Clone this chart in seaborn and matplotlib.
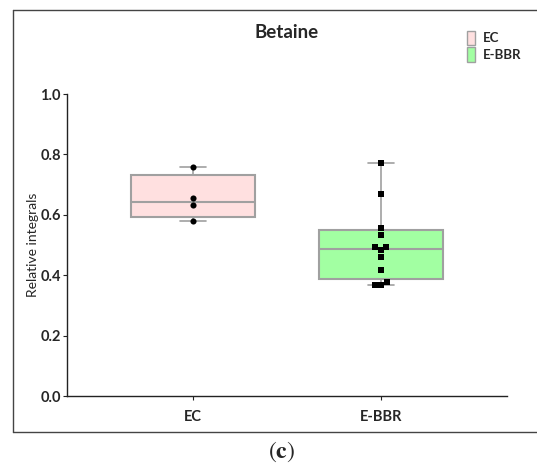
import numpy as np
import pandas as pd
import matplotlib
matplotlib.use("Agg")
import matplotlib.pyplot as plt
import seaborn as sns
from matplotlib.patches import Patch
from matplotlib.lines import Line2D

# values
GROUPS = ["EC", "E-BBR"]
EC_VALUES = [0.759, 0.656, 0.632, 0.578]
EBBR_VALUES = [0.773, 0.669, 0.557, 0.532, 0.494, 0.492, 0.483,
               0.460, 0.416, 0.377, 0.369, 0.369]
COLORS = {"EC": "#ffe0e0", "E-BBR": "#a2ffa2"}
MARKERS = {"EC": "o", "E-BBR": "s"}

df = pd.DataFrame({
    "group": ["EC"] * len(EC_VALUES) + ["E-BBR"] * len(EBBR_VALUES),
    "value": EC_VALUES + EBBR_VALUES,
})

sns.set_theme(style="white")
plt.rcParams["font.family"] = ["Lato", "DejaVu Sans"]
plt.rcParams["mathtext.fontset"] = "stix"

fig = plt.figure(figsize=(5.37, 4.68), dpi=100)
ax = fig.add_axes([67 / 537, 1 - 396 / 468, 440 / 537, 302 / 468])

# Prism-style boxes: quartiles by (n+1)p rule, whiskers min..max
stats = []
for g in GROUPS:
    v = df.loc[df["group"] == g, "value"].to_numpy()
    q1, med, q3 = np.percentile(v, [25, 50, 75], method="weibull")
    stats.append(dict(med=med, q1=q1, q3=q3, whislo=v.min(), whishi=v.max(), fliers=[]))

edge = "#a0a0a0"
bp = ax.bxp(stats, positions=[0, 1], widths=0.655, capwidths=0.135,
            patch_artist=True, showfliers=False,
            boxprops=dict(edgecolor=edge, linewidth=1.5),
            medianprops=dict(color=edge, linewidth=1.5),
            whiskerprops=dict(color=edge, linewidth=1.2),
            capprops=dict(color=edge, linewidth=1.2))
for patch, g in zip(bp["boxes"], GROUPS):
    patch.set_facecolor(COLORS[g])
    patch.set_zorder(2)

for g in GROUPS:
    sns.swarmplot(data=df[df["group"] == g], x="group", y="value", order=GROUPS,
                  marker=MARKERS[g], color="black", size=4.4, ax=ax, zorder=4)

ax.set_xlim(-0.67, 1.67)
ax.set_ylim(0, 1.0)
ax.set_yticks([0.0, 0.2, 0.4, 0.6, 0.8, 1.0])
ax.set_yticklabels([f"{t:.1f}" for t in [0.0, 0.2, 0.4, 0.6, 0.8, 1.0]])
ax.set_xticks([0, 1])
ax.set_xticklabels(GROUPS)
ax.set_xlabel("")
ax.set_ylabel("Relative integrals", fontsize=10, labelpad=1)
for lbl in ax.get_xticklabels() + ax.get_yticklabels():
    lbl.set_fontweight("bold")
    lbl.set_fontsize(10.5)
ax.tick_params(axis="both", which="both", direction="out", length=3, width=0.8,
               color="#222222", left=True, bottom=True, pad=1.5)
ax.tick_params(axis="x", pad=7)
sns.despine(ax=ax)
for s in ("left", "bottom"):
    ax.spines[s].set_color("#222222")
    ax.spines[s].set_linewidth(1.0)

fig.text(287 / 537, 1 - 33 / 468, "Betaine", ha="center", va="center",
         fontsize=13.5, fontweight="bold")

handles = [Patch(facecolor=COLORS[g], edgecolor=edge, linewidth=1.0) for g in GROUPS]
leg = fig.legend(handles, GROUPS, loc="upper left", bbox_to_anchor=(455 / 537, 1 - 19 / 468),
                 frameon=False, handlelength=0.6, handleheight=1.3, handletextpad=0.6,
                 labelspacing=0.15, prop=dict(weight="bold", size=9.5))

# panel frame of the paper figure
frame_kw = dict(color="#444444", linewidth=1.0, transform=fig.transFigure)
x0, yt, yb = 12.5 / 537, 1 - 9.5 / 468, 1 - 431.5 / 468
fig.add_artist(Line2D([x0, 1.01], [yt, yt], **frame_kw))
fig.add_artist(Line2D([x0, x0], [yt, yb], **frame_kw))
fig.add_artist(Line2D([x0, 1.01], [yb, yb], **frame_kw))

fig.text(282 / 537, 1 - 452 / 468, r"$(\mathbf{c})$", ha="center", va="center", fontsize=17)

fig.savefig("out.png", dpi=100)
